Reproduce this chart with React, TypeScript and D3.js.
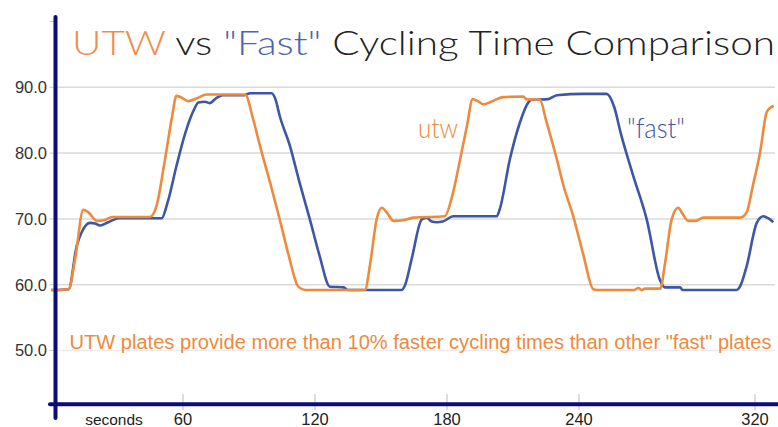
import React from "react";
import * as d3 from "d3";

const utwTime = [0, 3, 8, 11, 14.7, 17, 20.8, 24, 28, 45, 48, 51.8, 55, 57, 59, 62.4, 66, 70.8, 88.2, 92, 95, 100, 104, 108, 112.4, 115.5, 142.7, 145, 148, 150.3, 153, 155.6, 160, 164.7, 179, 182, 186, 189, 191.7, 194, 196.5, 200, 205.6, 214.7, 216, 222.3, 225, 229.9, 233, 237.4, 242, 246.5, 248, 265, 267, 268.5, 270, 277, 279, 282.1, 285.1, 287, 289.7, 293, 296.5, 313.2, 316.2, 319, 322.3, 325.3, 327, 328.5];
const utwValue = [59.2, 59.2, 59.3, 64, 71.4, 71.0, 69.7, 69.8, 70.3, 70.3, 72, 79, 85.5, 88.7, 88.5, 87.9, 88.3, 88.9, 88.9, 85, 81.1, 75, 69.9, 64.5, 59.7, 59.2, 59.2, 63, 69.9, 71.7, 70.8, 69.7, 69.8, 70.2, 70.4, 73, 79.1, 84, 88.2, 87.9, 87.4, 87.8, 88.5, 88.6, 88.2, 88.1, 85, 79.1, 75, 70.4, 64.5, 59.3, 59.2, 59.2, 59.5, 59.2, 59.4, 59.4, 63, 69.9, 71.7, 70.8, 69.7, 69.7, 70.2, 70.2, 71, 75, 80.1, 86.2, 86.9, 87.2];

const fastTime = [0, 3, 8, 11.7, 14, 17.7, 20, 22.3, 26, 31, 50.3, 53, 57, 61, 64.7, 67, 70, 72, 75.3, 78, 88, 90.5, 100.3, 102, 104, 108.6, 113, 117.7, 122, 126.8, 133, 135, 159.4, 161, 164, 168.5, 170.8, 173, 175.3, 178, 182.9, 202.6, 204, 208.6, 213, 217, 218.5, 226, 229.9, 242, 252.6, 256, 259, 264.7, 270.8, 276.8, 279, 286, 287, 311.7, 313, 316.2, 320.8, 323.8, 326, 328.3];
const fastValue = [59.2, 59.2, 59.3, 65.9, 68, 69.4, 69.3, 69.0, 69.5, 70.1, 70.1, 72.5, 78, 83, 86.4, 87.7, 87.8, 87.6, 88.4, 88.8, 88.8, 89.1, 89.1, 88.2, 85.6, 81.1, 75.5, 69.9, 64.5, 59.7, 59.6, 59.2, 59.2, 60, 64, 69.9, 70.2, 69.6, 69.5, 69.6, 70.4, 70.4, 71.5, 79.1, 84.5, 87.7, 88.1, 88.2, 88.8, 89.0, 89.0, 87, 83, 76.5, 69.9, 60.7, 59.6, 59.6, 59.2, 59.2, 59.6, 62.8, 69.4, 70.4, 70.1, 69.5];

const yTicks = [50, 60, 70, 80, 90];
const xTicks = [60, 120, 180, 240, 320];

const titleParts = [
  { text: "UTW", color: "#EE8E4A" },
  { text: " vs ", color: "#222222" },
  { text: "\"Fast\"", color: "#4A64AE" },
  { text: " Cycling Time Comparison", color: "#222222" },
];
const noteText = "UTW plates provide more than 10% faster cycling times than other \"fast\" plates";
const utwLabel = "utw";
const fastLabel = "\"fast\"";
const xUnitLabel = "seconds";

const ORANGE = "#EE8A3C";
const BLUE = "#3D56A6";
const AXIS = "#0C0C78";

export default function App() {
  const W = 778, H = 427;
  const x = d3.scaleLinear().domain([0, 330]).range([51, 777]);
  const y = d3.scaleLinear().domain([40, 100]).range([416.3, 21.5]);
  const axisX = 55.5;
  const axisY = y(41.85);

  const line = d3.line<[number, number]>()
    .x(d => x(d[0]))
    .y(d => y(d[1]))
    .curve(d3.curveMonotoneX);

  const utw = utwTime.map((t, i) => [t, utwValue[i]] as [number, number]);
  const fast = fastTime.map((t, i) => [t, fastValue[i]] as [number, number]);

  return (
    <svg width={W} height={H} style={{ position: "fixed", left: 0, top: 0, background: "#fff" }}>
      <rect x={0} y={0} width={W} height={H} fill="#fff" />
      {yTicks.map(v => (
        <line key={"g" + v} x1={axisX} x2={775} y1={y(v)} y2={y(v)}
          stroke="#DADADA" strokeWidth={1.5} opacity={v === 50 ? 0.5 : 1} />
      ))}
      {[...yTicks, 100].map(v => (
        <line key={"yt" + v} x1={axisX - 6} x2={axisX} y1={y(v)} y2={y(v)} stroke="#C8C8D8" strokeWidth={1} />
      ))}
      {yTicks.map(v => (
        <text key={"yl" + v} x={47} y={y(v)} dy="0.36em" textAnchor="end"
          fontFamily="Liberation Sans, Arial, sans-serif" fontSize={16.5} fill="#333">
          {d3.format(".1f")(v)}
        </text>
      ))}
      {xTicks.map(t => (
        <line key={"xt" + t} x1={x(t)} x2={x(t)} y1={axisY - 10} y2={axisY + 6} stroke="#BBBBBB" strokeWidth={1} />
      ))}
      {xTicks.map(t => (
        <text key={"xl" + t} x={x(t)} y={425} textAnchor="middle"
          fontFamily="Liberation Sans, Arial, sans-serif" fontSize={16.5} fill="#222">
          {t}
        </text>
      ))}
      <text x={114} y={425} textAnchor="middle" fontFamily="Liberation Sans, Arial, sans-serif" fontSize={15.5} fill="#222">
        {xUnitLabel}
      </text>

      <path d={line(fast) || ""} fill="none" stroke={BLUE} strokeWidth={2.6} strokeLinejoin="round" />
      <path d={line(utw) || ""} fill="none" stroke={ORANGE} strokeWidth={2.6} strokeLinejoin="round" />

      <line x1={axisX} x2={axisX} y1={17} y2={418} stroke={AXIS} strokeWidth={4} strokeLinecap="round" />
      <line x1={50} x2={778} y1={axisY} y2={axisY} stroke={AXIS} strokeWidth={4} strokeLinecap="round" />

      <text x={72} y={55} fontFamily="Lato, 'Open Sans', sans-serif" fontWeight={300} fontSize={33}
        textLength={703} lengthAdjust="spacingAndGlyphs">
        {titleParts.map((p, i) => (
          <tspan key={i} fill={p.color} style={{ whiteSpace: "pre" }}>{p.text}</tspan>
        ))}
      </text>

      <text x={418} y={138} fontFamily="Lato, 'Open Sans', sans-serif" fontWeight={300} fontSize={27}
        fill={ORANGE} textLength={40} lengthAdjust="spacingAndGlyphs">{utwLabel}</text>
      <text x={627} y={138} fontFamily="Lato, 'Open Sans', sans-serif" fontWeight={300} fontSize={27}
        fill={BLUE} textLength={58} lengthAdjust="spacingAndGlyphs">{fastLabel}</text>

      <text x={69.5} y={348.5} fontFamily="'Liberation Sans Narrow', 'Liberation Sans', Arial, sans-serif"
        fontSize={20} fill={ORANGE} textLength={702} lengthAdjust="spacingAndGlyphs">{noteText}</text>
    </svg>
  );
}
